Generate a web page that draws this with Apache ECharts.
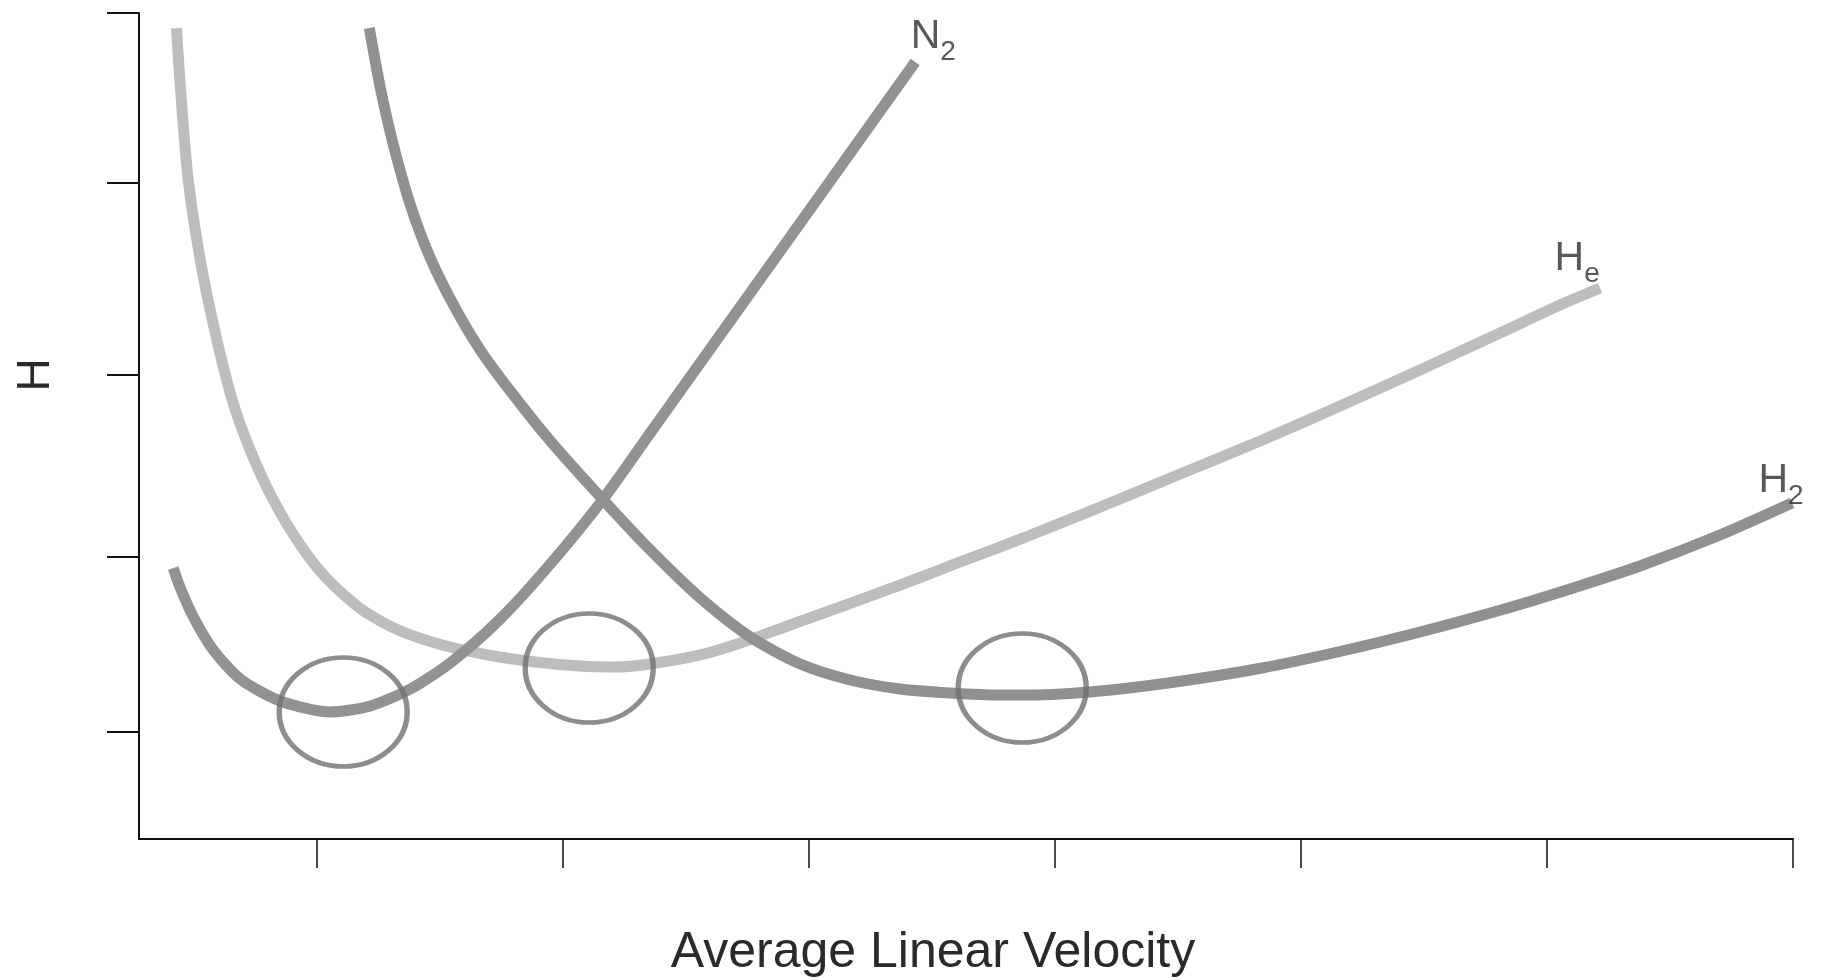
<!DOCTYPE html>
<html>
<head>
    <meta charset="utf-8" />
    <title>Van Deemter</title>
    <script src="https://cdn.jsdelivr.net/npm/echarts@6.0.0/dist/echarts.min.js"></script>
    <style>
        html, body { margin: 0; padding: 0; background: #fff; }
        #main { width: 1833px; height: 980px; }
    </style>
</head>
<body>
    <div id="main"></div>
    <script type="text/javascript">
        // tick positions (no numbers are printed on the axes)
        var xTicks = [1, 2, 3, 4, 5, 6, 7];
        var yTicks = [1.295, 3.414, 5.617, 7.942, 10];

        // curves, [velocity, H]
        var heCurve = [
            [0.429, 9.818], [0.449, 8.947], [0.477, 7.978], [0.526, 7.010], [0.587, 6.126],
            [0.656, 5.315], [0.729, 4.709], [0.823, 4.104], [0.933, 3.559], [1.046, 3.136],
            [1.185, 2.772], [1.331, 2.530], [1.510, 2.349], [1.697, 2.228], [1.888, 2.143],
            [2.070, 2.094], [2.213, 2.082], [2.355, 2.119], [2.558, 2.228], [2.721, 2.373],
            [2.924, 2.591], [3.127, 2.809], [3.371, 3.075], [3.615, 3.354], [3.871, 3.644],
            [4.184, 4.019], [4.509, 4.419], [4.834, 4.818], [5.159, 5.242], [5.484, 5.678],
            [5.809, 6.126], [6.053, 6.465], [6.216, 6.671]
        ];
        var n2Curve = [
            [0.416, 3.281], [0.445, 3.039], [0.498, 2.688], [0.579, 2.288], [0.689, 1.937],
            [0.851, 1.671], [1.055, 1.538], [1.217, 1.610], [1.380, 1.816], [1.542, 2.131],
            [1.745, 2.663], [1.949, 3.329], [2.164, 4.116], [2.355, 4.915], [2.558, 5.763],
            [2.802, 6.780], [3.046, 7.797], [3.249, 8.644], [3.432, 9.407]
        ];
        var h2Curve = [
            [1.213, 9.818], [1.258, 9.092], [1.311, 8.402], [1.380, 7.676], [1.461, 7.034],
            [1.562, 6.429], [1.664, 5.920], [1.786, 5.424], [1.949, 4.818], [2.164, 4.104],
            [2.355, 3.499], [2.558, 2.918], [2.761, 2.446], [2.965, 2.119], [3.168, 1.925],
            [3.371, 1.816], [3.574, 1.768], [3.777, 1.743], [3.899, 1.743], [4.184, 1.792],
            [4.517, 1.913], [4.842, 2.070], [5.167, 2.276], [5.484, 2.506], [5.813, 2.772],
            [6.094, 3.027], [6.378, 3.305], [6.703, 3.680], [6.996, 4.068]
        ];

        // optimum (minimum H) of each gas, circled
        var optimumPoints = [[1.107, 1.538], [2.107, 2.070], [3.867, 1.828]];

        var gasNames = ['N2', 'He', 'H2'];
        var gasLabels = ['{m|N}{s|2}', '{m|H}{s|e}', '{m|H}{s|2}'];

        var myChart = echarts.init(document.getElementById('main'));

        var fontName = 'Liberation Sans';
        var lastOf = function (arr) { return arr[arr.length - 1]; };
        var ends = [lastOf(n2Curve), lastOf(heCurve), lastOf(h2Curve)];
        var labelPos = [[-4, -45], [-45, -49], [-33, -42]];

        var lineSeries = function (name, data, color) {
            return {
                name: name,
                type: 'line',
                data: data,
                showSymbol: false,
                smooth: 0.25,
                silent: true,
                lineStyle: { color: color, width: 11 }
            };
        };

        myChart.setOption({
            animation: false,
            grid: { left: 139, right: 40, top: 13, bottom: 141, outerBoundsMode: 'none' },
            xAxis: {
                type: 'value',
                min: 0.277,
                max: 7,
                name: 'Average Linear Velocity',
                nameLocation: 'middle',
                nameGap: 89,
                nameTextStyle: {
                    fontFamily: fontName, fontSize: 50, color: '#2a2a2a',
                    padding: [0, 66, 0, 0]
                },
                axisLine: { lineStyle: { color: '#111', width: 2 } },
                axisTick: {
                    show: true, inside: false, length: 29,
                    customValues: xTicks,
                    lineStyle: { color: '#111', width: 1.5 }
                },
                axisLabel: { show: false },
                splitLine: { show: false }
            },
            yAxis: {
                type: 'value',
                min: 0,
                max: 10,
                name: 'H',
                nameLocation: 'middle',
                nameRotate: 90,
                nameGap: 80,
                nameTextStyle: {
                    fontFamily: fontName, fontSize: 46, color: '#2a2a2a',
                    padding: [0, 0, 0, 102]
                },
                axisLine: { show: true, lineStyle: { color: '#111', width: 2 } },
                axisTick: {
                    show: true, inside: false, length: 32,
                    customValues: yTicks,
                    lineStyle: { color: '#111', width: 2 }
                },
                axisLabel: { show: false },
                splitLine: { show: false }
            },
            series: [
                lineSeries('He', heCurve, '#bdbdbd'),
                lineSeries('N2', n2Curve, '#929292'),
                lineSeries('H2', h2Curve, '#909090'),
                {
                    name: 'optimum',
                    type: 'scatter',
                    silent: true,
                    symbol: 'circle',
                    symbolSize: [128, 109],
                    data: optimumPoints,
                    itemStyle: { color: 'rgba(0,0,0,0)', borderColor: '#707070', borderWidth: 5 },
                    z: 5
                },
                {
                    name: 'labels',
                    type: 'scatter',
                    silent: true,
                    symbolSize: 1,
                    itemStyle: { color: 'rgba(0,0,0,0)' },
                    data: gasNames.map(function (g, i) {
                        return {
                            name: g,
                            value: ends[i],
                            label: {
                                show: true,
                                position: labelPos[i],
                                formatter: gasLabels[i],
                                rich: {
                                    m: { fontFamily: fontName, fontSize: 41, verticalAlign: 'top',
                                         color: '#2e2e2e' },
                                    s: { fontFamily: fontName, fontSize: 28, verticalAlign: 'top',
                                         padding: [22, 0, 0, 0], color: '#2e2e2e' }
                                }
                            }
                        };
                    }),
                    z: 6
                }
            ]
        });
    </script>
</body>
</html>
